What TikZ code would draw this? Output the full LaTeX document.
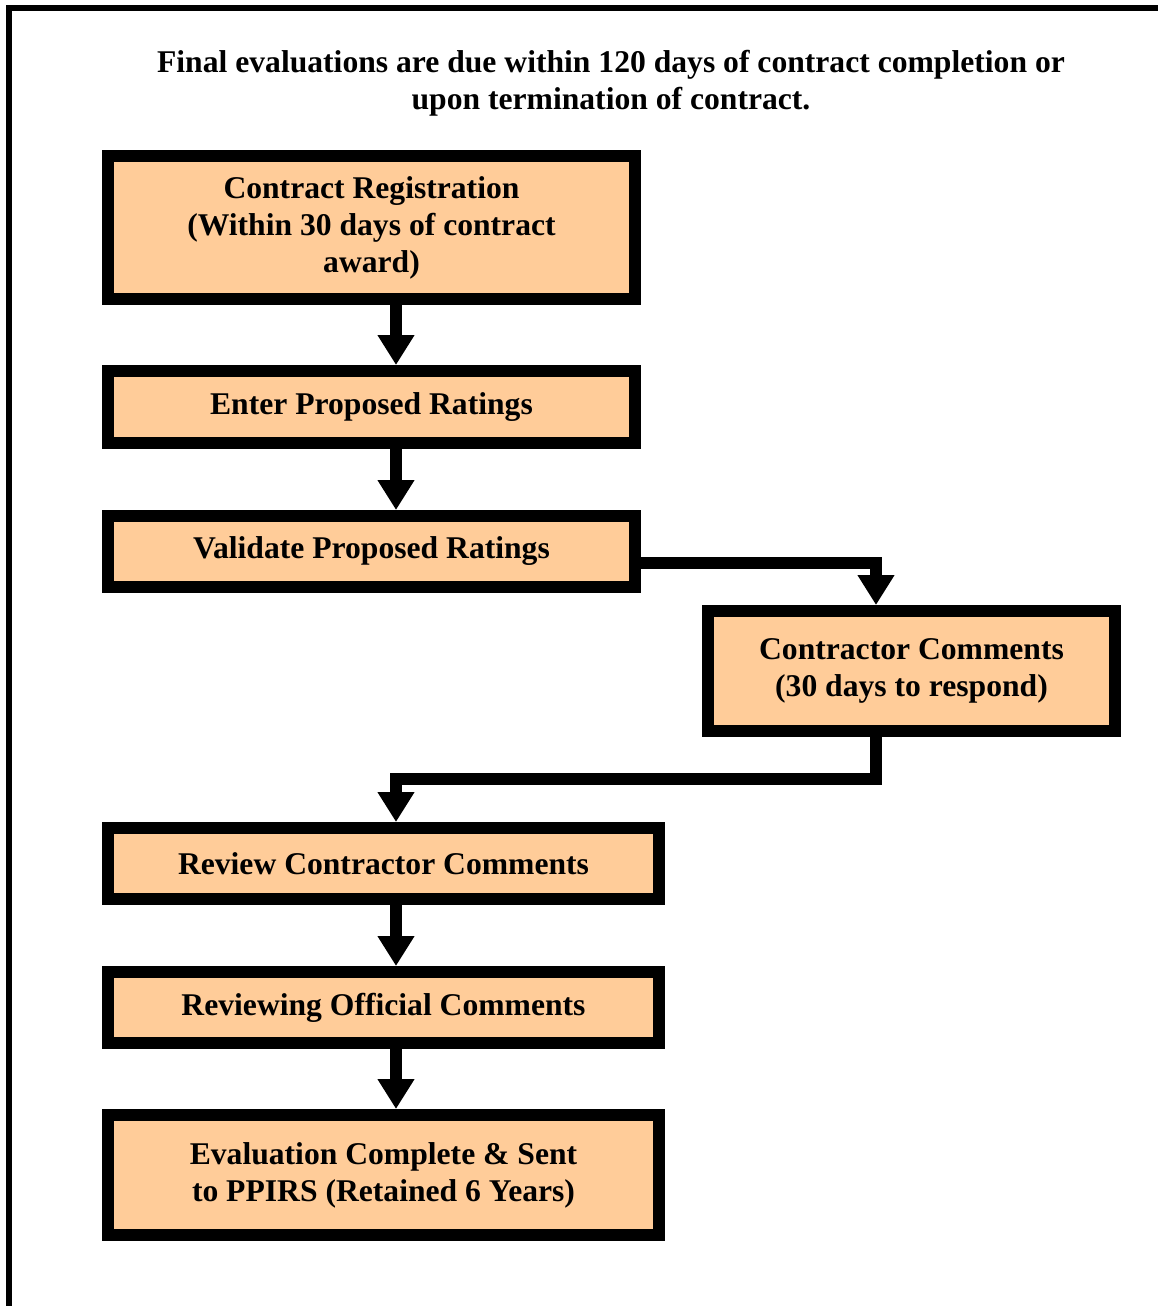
\documentclass[tikz,border=0pt]{standalone}
\usepackage{fontspec}
\setmainfont{Liberation Serif}
\usetikzlibrary{arrows.meta}
\definecolor{boxfill}{HTML}{FFCC99}

\begin{document}
\begin{tikzpicture}[x=0.02cm, y=-0.02cm,
	stepbox/.style={draw, fill=boxfill, line width=0.24cm, align=center, inner sep=0pt,
		font=\fontsize{18}{21}\selectfont\bfseries},
	flow/.style={line width=0.24cm, -{Triangle[length=0.6cm, width=0.7cm]}}]
	\useasboundingbox (0,0) rectangle (1158,1306);
	\clip (0,0) rectangle (1158,1306);
	\draw[line width=0.12cm] (9,1320) -- (9,8) -- (1170,8);

	\node (title) [align=center, font=\fontsize{18}{21}\selectfont\bfseries] at (611,83.5)
		{Final evaluations are due within 120 days of contract completion or\\upon termination of contract.};

	\node (b1) [stepbox, minimum width=10.54cm, minimum height=2.86cm] at (371.5,227.5)
		{Contract Registration\\(Within 30 days of contract\\award)};
	\node (b2) [stepbox, minimum width=10.54cm, minimum height=1.44cm] at (371.5,407)
		{Enter Proposed Ratings};
	\node (b3) [stepbox, minimum width=10.54cm, minimum height=1.42cm] at (371.5,551.5)
		{Validate Proposed Ratings};
	\node (b4) [stepbox, minimum width=8.14cm, minimum height=2.4cm] at (911.5,671)
		{Contractor Comments\\(30 days to respond)};
	\node (b5) [stepbox, minimum width=11.02cm, minimum height=1.42cm] at (383.5,863.5)
		{Review Contractor Comments};
	\node (b6) [stepbox, minimum width=11.02cm, minimum height=1.42cm] at (383.5,1007.5)
		{Reviewing Official Comments};
	\node (b7) [stepbox, minimum width=11.02cm, minimum height=2.4cm] at (383.5,1175)
		{Evaluation Complete \& Sent\\to PPIRS (Retained 6 Years)};

	\coordinate (spine) at (396,0);
	\coordinate (k1) at (876,563);
	\coordinate (k2) at (876,779);
	\coordinate (k3) at (396,779);

	\draw[flow] (b1.south -| spine) -- (b2.north -| spine);
	\draw[flow] (b2.south -| spine) -- (b3.north -| spine);
	\draw[flow] (b3.east |- k1) -- (k1) -- (b4.north -| k1);
	\draw[flow] (b4.south -| k2) -- (k2) -- (k3) -- (b5.north -| k3);
	\draw[flow] (b5.south -| spine) -- (b6.north -| spine);
	\draw[flow] (b6.south -| spine) -- (b7.north -| spine);
\end{tikzpicture}
\end{document}
